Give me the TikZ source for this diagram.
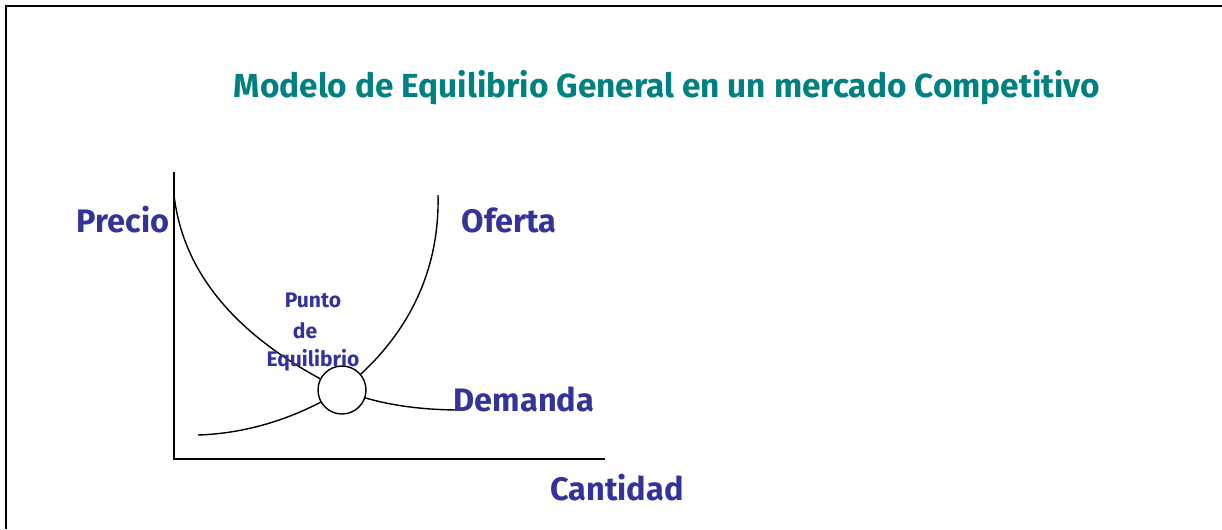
\documentclass[tikz,border=0pt]{standalone}
\usepackage{fontspec}
\setmainfont{Fira Sans}
\definecolor{titleteal}{RGB}{0, 128, 128}
\definecolor{labelblue}{RGB}{51, 51, 153}
\usetikzlibrary{positioning}

\tikzset{
  biglabel/.style={text=labelblue, font=\fontsize{18.5}{22}\selectfont\bfseries, inner sep=0pt},
  smalllabel/.style={text=labelblue, font=\fontsize{12}{14}\selectfont\bfseries, inner sep=0pt},
  curve/.style={line width=0.8pt},
  axisline/.style={line width=1pt}
}

\begin{document}
\begin{tikzpicture}[x=0.02cm, y=-0.02cm]
  \useasboundingbox (0,0) rectangle (1222,529);

  % Slide frame
  \draw[line width=1pt] (6,529) -- (6,6) -- (1222,6);

  % Title
  \node[text=titleteal, font=\fontsize{19}{23}\selectfont\bfseries, inner sep=0pt] (title) at (667,88)
    {Modelo de Equilibrio General en un mercado Competitivo};

  % Axes
  \coordinate (origin) at (174,459);
  \coordinate (ytop) at (174,172);
  \coordinate (xend) at (605,459);
  \draw[axisline] (ytop) -- (origin) -- (xend);

  % Curves
  \coordinate (eq) at (342,390);
  \draw[curve] (174,195) .. controls (185,290) and (260,350) .. (eq)
    .. controls (380,405) and (420,410) .. (462,410);
  \draw[curve] (198,435) .. controls (260,433) and (310,410) .. (eq)
    .. controls (400,345) and (440,280) .. (438,195);

  % Equilibrium point
  \node[circle, draw, fill=white, line width=0.8pt, minimum size=0.96cm, inner sep=0pt] (punto) at (eq) {};

  % Labels
  \node[biglabel] (precio) at (123,220) {Precio};
  \node[biglabel] (oferta) at (509,220) {Oferta};
  \node[biglabel] (demanda) at (524,399) {Demanda};
  \node[biglabel] (cantidad) at (617,488) {Cantidad};
  \node[smalllabel] (puntotxt) at (313,300) {Punto};
  \node[smalllabel] (detxt) at (305,331) {de};
  \node[smalllabel] (equiltxt) at (313,360) {Equilibrio};
\end{tikzpicture}
\end{document}
